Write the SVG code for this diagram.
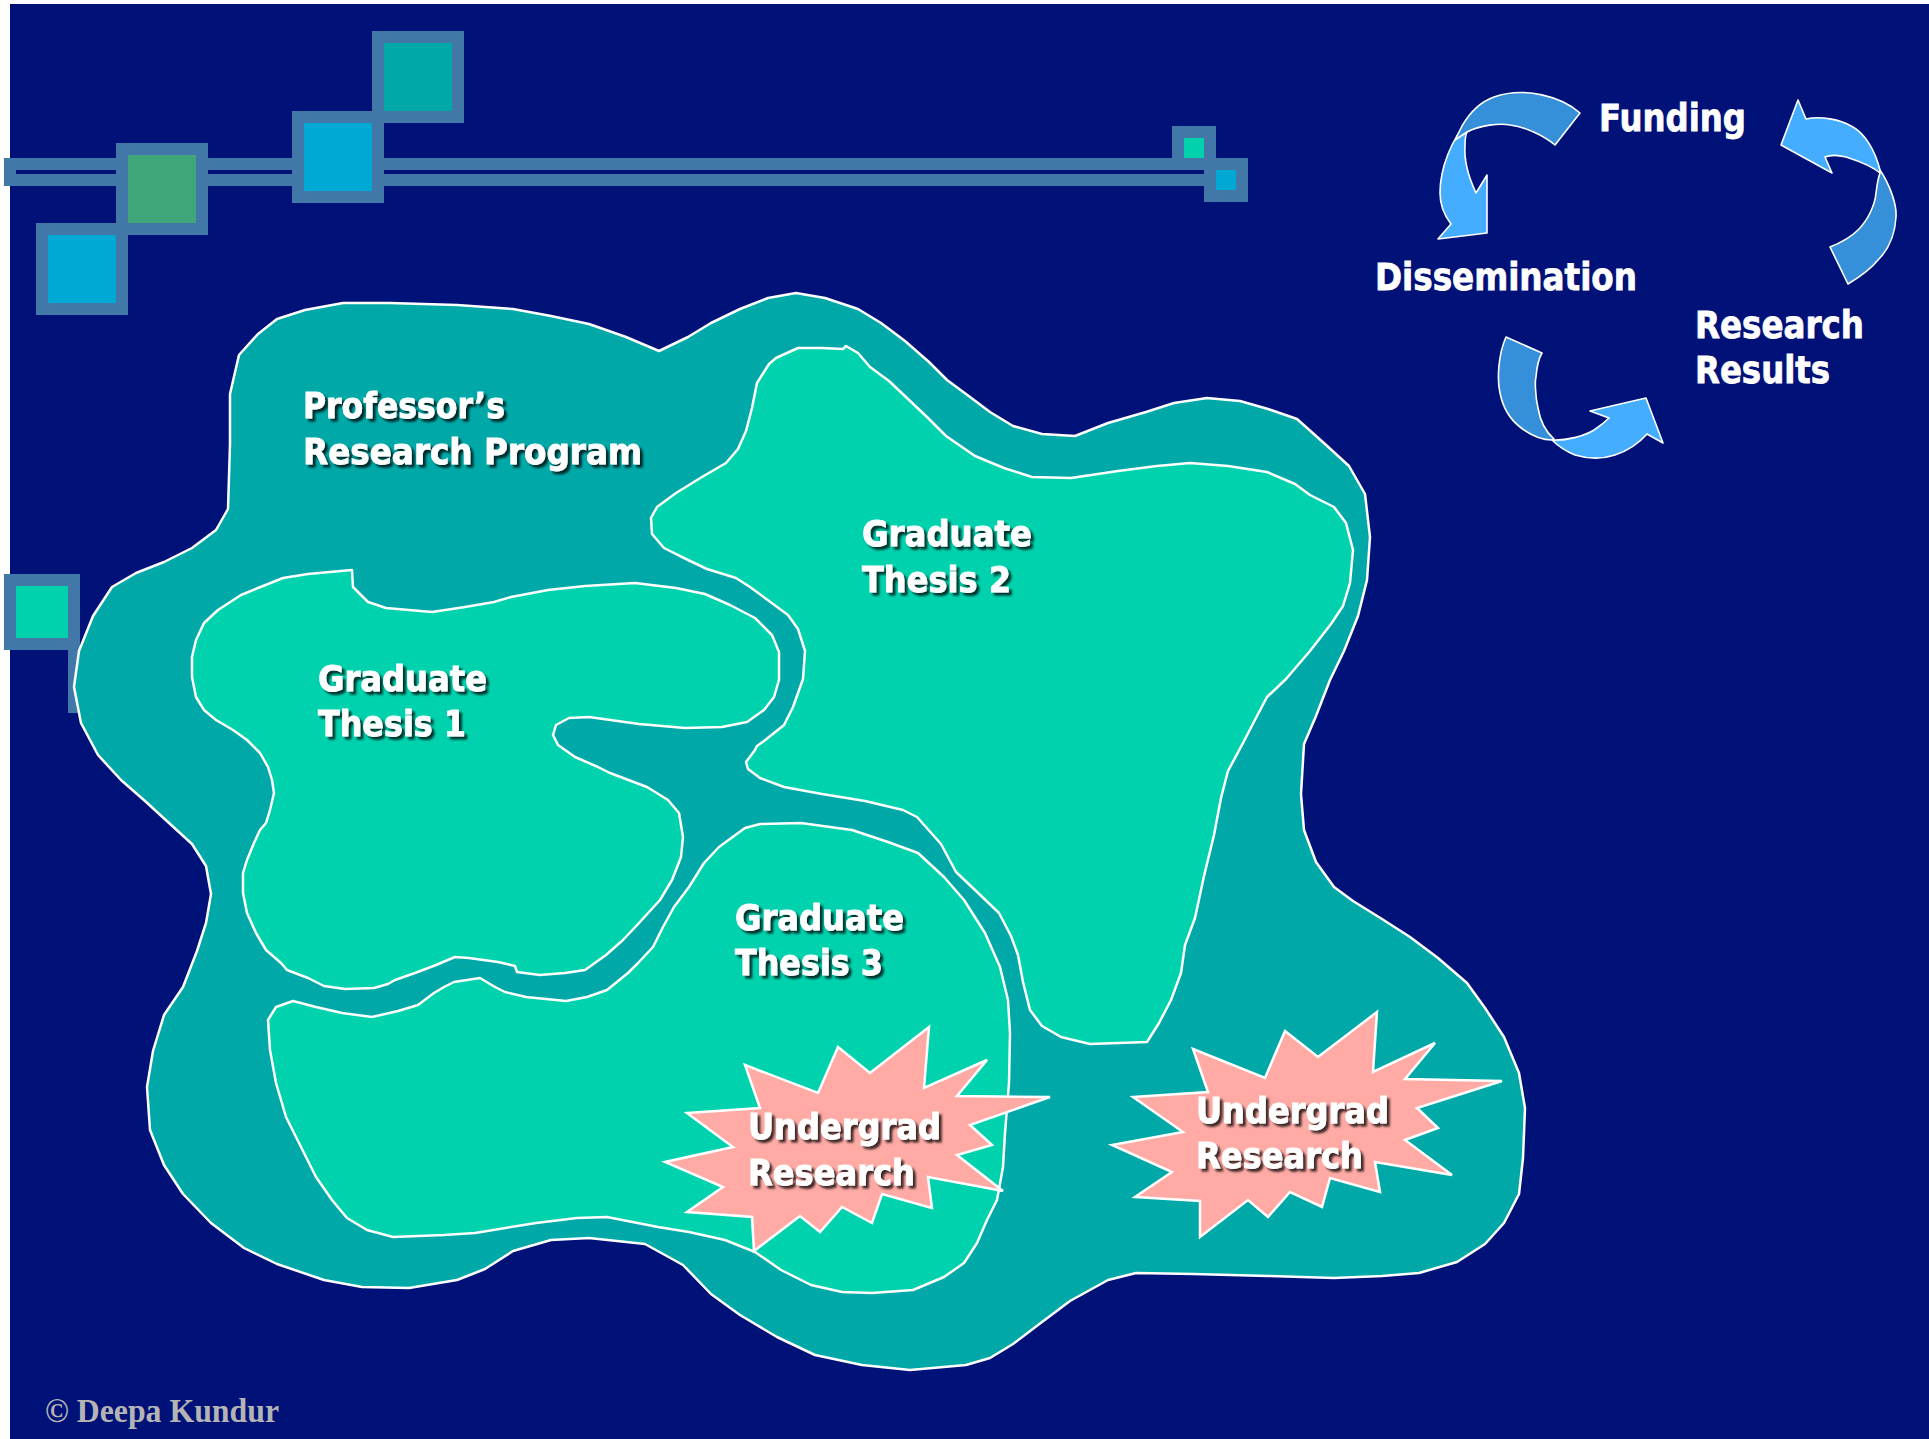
<svg xmlns="http://www.w3.org/2000/svg" width="1929" height="1439" viewBox="0 0 1929 1439">
<defs>
<style>
.frame{fill:#4178A8}
.blob{stroke:#FFFFFF;stroke-width:2.5;stroke-linejoin:round}
.outer{fill:#00A8A8}
.inner{fill:#00D2AE}
.star{fill:#FFAAA5;stroke:#FFFFFF;stroke-width:2.5;stroke-linejoin:miter}
.lbl{font-family:"DejaVu Sans","Liberation Sans",sans-serif;font-weight:bold;font-size:36px;fill:#FFFFFF;stroke:#FFFFFF;stroke-width:0.8;filter:url(#sh)}
.cyc{font-family:"DejaVu Sans","Liberation Sans",sans-serif;font-weight:bold;font-size:37px;fill:#FFFFFF;stroke:#FFFFFF;stroke-width:0.8}
.arrL{fill:#44ADFF;stroke:#FFFFFF;stroke-width:1.6;stroke-linejoin:round}
.arrD{fill:#3590D9;stroke:#FFFFFF;stroke-width:1.6;stroke-linejoin:round}
.copy{font-family:"Liberation Serif","Times New Roman",serif;font-weight:bold;font-size:33px;fill:#B4B4B4}
</style>
<filter id="sh" x="-10%" y="-30%" width="130%" height="170%">
<feDropShadow dx="3" dy="3" stdDeviation="1" flood-color="#000000" flood-opacity="0.75"/>
</filter>
</defs>
<rect x="0" y="0" width="1929" height="1439" fill="#FFFFFF"/>
<rect x="10" y="4" width="1919" height="1435" fill="#001177"/>

<g id="decor">
<rect class="frame" x="4" y="158" width="1200" height="28"/>
<rect x="16" y="170" width="1188" height="4" fill="#001177"/>
<rect class="frame" x="36" y="223" width="92" height="92"/>
<rect x="48" y="235" width="68" height="68" fill="#00A9D4"/>
<rect class="frame" x="116" y="143" width="92" height="92"/>
<rect x="128" y="155" width="68" height="68" fill="#3FA67A"/>
<rect class="frame" x="292" y="111" width="92" height="92"/>
<rect x="304" y="123" width="68" height="68" fill="#00A9D4"/>
<rect class="frame" x="372" y="31" width="92" height="92"/>
<rect x="384" y="43" width="68" height="68" fill="#00A8A8"/>
<rect class="frame" x="1172" y="126" width="44" height="44"/>
<rect x="1184" y="138" width="20" height="20" fill="#00D2AE"/>
<rect class="frame" x="1204" y="158" width="44" height="44"/>
<rect x="1216" y="170" width="20" height="20" fill="#00A9D4"/>
<rect class="frame" x="68" y="638" width="12" height="75"/>
<rect class="frame" x="4" y="574" width="76" height="76"/>
<rect x="16" y="586" width="52" height="52" fill="#00D2AE"/>
</g>

<g id="professors-program">
<polygon class="blob outer" points="659,351 626,337 589,324 551,316 513,309 457,305 390,303 343,303 305,310 277,319 258,334 239,355 230,394 230,444 228,509 216,530 192,548 164,562 136,573 112,587 93,616 79,651 74,687 81,723 98,755 121,780 145,801 169,823 192,844 206,866 211,894 206,923 197,951 183,987 164,1015 153,1051 147,1087 150,1130 164,1165 183,1194 211,1223 244,1248 277,1264 324,1280 362,1287 409,1288 457,1280 485,1269 513,1251 551,1240 589,1238 645,1244 683,1265 711,1294 740,1315 777,1337 815,1355 862,1365 910,1370 966,1365 990,1358 1013,1344 1042,1322 1070,1301 1108,1280 1136,1273 1193,1274 1268,1276 1334,1278 1382,1276 1419,1273 1457,1262 1485,1244 1504,1223 1519,1194 1523,1158 1525,1108 1519,1073 1504,1037 1485,1008 1467,983 1438,958 1410,937 1382,919 1353,901 1334,887 1316,862 1304,830 1301,794 1304,744 1316,716 1330,680 1344,651 1358,616 1367,580 1370,537 1365,494 1349,466 1325,444 1297,419 1268,409 1240,401 1207,398 1174,403 1146,412 1108,423 1075,436 1042,434 1013,426 990,412 966,394 947,380 929,362 905,341 881,323 858,309 825,298 796,293 768,298 740,309 711,323 688,337"/>
<text class="lbl" x="303" y="418" textLength="202" lengthAdjust="spacingAndGlyphs">Professor’s</text>
<text class="lbl" x="303" y="464" textLength="339" lengthAdjust="spacingAndGlyphs">Research Program</text>
</g>

<g id="thesis-1">
<polygon class="blob inner" points="352,570 353,587 368,602 386,608 432,612 465,607 494,602 511,597 548,590 585,586 635,583 676,588 705,594 730,605 755,618 772,635 779,652 779,680 774,697 764,710 747,722 722,727 685,728 639,724 589,717 569,718 556,725 553,735 558,745 575,757 598,767 610,773 647,787 668,800 679,813 683,837 681,857 672,880 660,900 639,923 623,940 606,955 585,970 565,973 540,975 517,972 515,966 498,962 469,958 455,957 436,965 415,973 395,980 388,984 374,988 345,989 324,986 308,978 287,970 281,963 266,950 256,933 247,913 243,893 243,873 247,860 254,843 260,830 266,823 270,810 274,793 272,780 268,767 260,753 247,740 233,730 216,720 204,710 196,697 192,677 192,657 196,640 204,623 218,610 241,595 258,588 283,578 308,574"/>
<text class="lbl" x="318" y="691" textLength="169" lengthAdjust="spacingAndGlyphs">Graduate</text>
<text class="lbl" x="318" y="736" textLength="148" lengthAdjust="spacingAndGlyphs">Thesis 1</text>
</g>

<g id="thesis-2">
<polygon class="blob inner" points="846,346 858,353 870,367 889,381 908,399 927,417 946,436 975,456 1004,468 1032,477 1071,478 1118,471 1157,466 1190,463 1228,466 1267,472 1295,484 1310,495 1334,507 1346,523 1353,550 1350,583 1343,606 1331,624 1310,651 1286,679 1267,697 1257,716 1243,743 1228,771 1221,798 1214,835 1204,876 1195,918 1185,945 1181,973 1171,1000 1159,1023 1147,1042 1090,1044 1061,1037 1042,1026 1030,1010 1023,982 1018,955 1011,936 999,913 975,890 956,872 941,844 917,817 903,810 865,801 822,794 784,787 760,778 748,769 746,762 755,750 757,746 764,741 784,725 793,707 803,679 805,651 798,629 788,615 769,601 750,587 736,578 707,569 688,560 664,548 652,534 651,518 657,507 676,493 702,477 726,463 738,449 746,431 752,408 757,383 769,364 776,358 798,348 822,348 843,349"/>
<text class="lbl" x="862" y="546" textLength="170" lengthAdjust="spacingAndGlyphs">Graduate</text>
<text class="lbl" x="862" y="592" textLength="149" lengthAdjust="spacingAndGlyphs">Thesis 2</text>
</g>

<g id="thesis-3">
<polygon class="blob inner" points="801,823 852,830 888,842 918,853 944,877 964,900 985,933 1000,967 1008,1000 1010,1033 1009,1083 1005,1133 1003,1167 997,1200 987,1220 977,1243 964,1263 944,1277 913,1290 872,1293 842,1292 811,1285 781,1270 755,1252 725,1240 689,1232 658,1227 607,1217 577,1218 536,1223 475,1233 444,1235 393,1237 367,1230 347,1218 332,1200 316,1177 301,1147 286,1117 276,1083 270,1050 268,1020 276,1007 293,1001 316,1007 342,1013 372,1017 398,1011 418,1005 434,993 444,987 454,982 480,978 495,987 505,992 526,997 566,1001 587,997 607,990 628,973 638,963 653,947 663,927 674,907 689,887 704,863 719,847 745,828 760,824"/>
<text class="lbl" x="735" y="930" textLength="169" lengthAdjust="spacingAndGlyphs">Graduate</text>
<text class="lbl" x="735" y="975" textLength="148" lengthAdjust="spacingAndGlyphs">Thesis 3</text>
</g>

<g id="undergrad-1">
<polygon class="star" points="929,1027 924,1088 987,1060 957,1096 1050,1097 970,1125 992,1145 957,1155 1003,1191 928,1177 932,1208 882,1194 872,1223 842,1207 820,1232 800,1216 754,1251 752,1217 687,1212 723,1187 665,1162 733,1147 687,1113 760,1108 745,1065 818,1093 838,1047 870,1073"/>
<text class="lbl" x="748" y="1139" textLength="193" lengthAdjust="spacingAndGlyphs">Undergrad</text>
<text class="lbl" x="748" y="1185" textLength="167" lengthAdjust="spacingAndGlyphs">Research</text>
</g>

<g id="undergrad-2">
<polygon class="star" points="1377,1012 1373,1072 1435,1043 1405,1079 1502,1081 1417,1108 1438,1128 1405,1140 1452,1175 1375,1162 1380,1192 1330,1178 1322,1207 1290,1192 1268,1217 1248,1200 1200,1237 1200,1201 1135,1197 1172,1172 1112,1145 1183,1132 1133,1097 1208,1092 1193,1049 1265,1078 1285,1031 1318,1057"/>
<text class="lbl" x="1196" y="1123" textLength="193" lengthAdjust="spacingAndGlyphs">Undergrad</text>
<text class="lbl" x="1196" y="1168" textLength="167" lengthAdjust="spacingAndGlyphs">Research</text>
</g>

<g id="funding"><text class="cyc" x="1599" y="131" textLength="147" lengthAdjust="spacingAndGlyphs">Funding</text></g>
<g id="dissemination"><text class="cyc" x="1375" y="290" textLength="262" lengthAdjust="spacingAndGlyphs">Dissemination</text></g>
<g id="research-results">
<text class="cyc" x="1695" y="338" textLength="169" lengthAdjust="spacingAndGlyphs">Research</text>
<text class="cyc" x="1695" y="383" textLength="135" lengthAdjust="spacingAndGlyphs">Results</text>
</g>

<g id="connectors">
<path class="arrL" d="M1471,117 C1450,140 1440,170 1440,193 C1440,205 1444,215 1451,224 L1438,239 L1487,233 L1487,175 L1476,193 C1469,178 1464,160 1465,146 C1465,138 1466,134 1467,132 Z"/>
<path class="arrD" d="M1580,113 C1562,97 1525,86 1494,97 C1480,102 1470,112 1462,126 L1455,140 L1467,132 C1480,125 1500,123 1510,125 C1525,127 1543,135 1555,145 Z"/>
<path class="arrL" d="M1781,145 L1798,100 L1806,119 C1820,116 1840,119 1853,127 C1865,134 1875,150 1880,170 L1880,173 C1873,167 1865,163 1846,157 C1838,155 1830,155 1825,157 L1832,173 Z"/>
<path class="arrD" d="M1880,170 C1890,185 1897,205 1896,217 C1895,235 1888,250 1878,260 C1870,270 1858,278 1848,284 L1830,247 C1840,243 1850,238 1858,230 C1868,220 1875,205 1876,193 C1877,185 1878,178 1880,173 Z"/>
<path class="arrD" d="M1506,337 C1498,355 1497,380 1500,393 C1503,408 1511,420 1520,427 C1530,435 1542,440 1552,440 L1554,439 C1546,432 1540,420 1538,408 C1535,395 1535,380 1536,377 C1537,365 1539,358 1542,353 Z"/>
<path class="arrL" d="M1552,440 C1565,441 1585,436 1594,430 C1600,426 1605,422 1609,418 L1590,411 L1646,398 L1663,443 L1647,434 C1640,442 1630,450 1615,455 C1600,460 1585,458 1575,455 C1565,451 1558,446 1552,440 Z"/>
</g>

<text class="copy" x="45" y="1422" textLength="234" lengthAdjust="spacingAndGlyphs">© Deepa Kundur</text>
</svg>
